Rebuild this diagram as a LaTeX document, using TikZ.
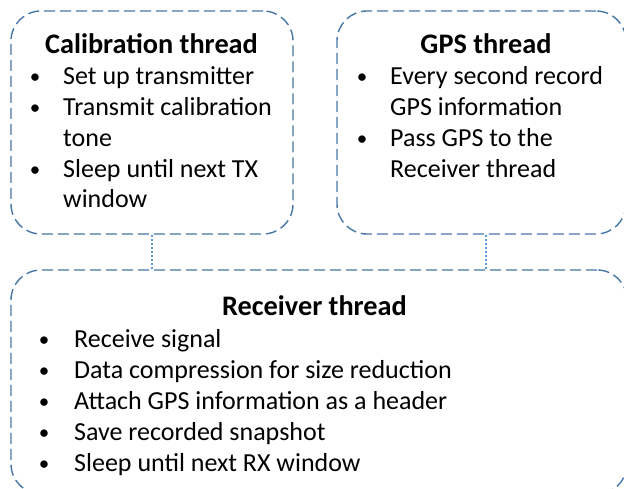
\documentclass[tikz,border=0pt]{standalone}
\usepackage{fontspec}
\setmainfont{Carlito}
\definecolor{boxblue}{RGB}{70,118,168}
\definecolor{connblue}{RGB}{91,155,213}
\tikzset{
  threadbox/.style={draw=boxblue, line width=1.4pt, dash pattern=on 11pt off 5pt, rounded corners=30pt, rectangle, inner sep=0pt},
  conn/.style={draw=connblue, line width=2pt, dash pattern=on 2pt off 2pt},
  ttl/.style={anchor=base, font=\fontsize{28.3}{32}\selectfont\bfseries, inner sep=0pt},
  itm/.style={anchor=base west, font=\fontsize{26}{31}\selectfont, inner sep=0pt},
  bul/.style={anchor=base, font=\fontsize{21}{30}\selectfont, inner sep=0pt, yshift=1pt}
}
\begin{document}
\begin{tikzpicture}[x=1pt,y=-1pt]
\useasboundingbox (0,0) rectangle (624,489);
\clip (0,0) rectangle (624,489);
% boxes
\node[threadbox, minimum width=282pt, minimum height=223pt] (cal) at (152,122.5) {};
\node[threadbox, minimum width=289pt, minimum height=223pt] (gps) at (481.5,122.5) {};
\node[threadbox, minimum width=616pt, minimum height=224pt] (rec) at (319,382) {};
% connectors
\draw[conn] (cal.south) -- (cal.south |- rec.north);
\draw[conn] ([xshift=4.5pt]gps.south) -- ([xshift=4.5pt]gps.south |- rec.north);
% calibration text
\node[ttl] (calt) at (151.5,54) {Calibration thread};
\node[bul] (cb1) at (35,85) {•};
\node[itm] (c1) at (63,85) {Set up transmitter};
\node[bul] (cb2) at (35,116) {•};
\node[itm] (c2) at (63,116) {Transmit calibration};
\node[itm] (c2b) at (63,147) {tone};
\node[bul] (cb3) at (35,178) {•};
\node[itm] (c3) at (63,178) {Sleep until next TX};
\node[itm] (c3b) at (63,208) {window};
% gps text
\node[ttl] (gpst) at (486,54) {GPS thread};
\node[bul] (gb1) at (362,85) {•};
\node[itm] (g1) at (390,85) {Every second record};
\node[itm] (g1b) at (390,116) {GPS information};
\node[bul] (gb2) at (362,147) {•};
\node[itm] (g2) at (390,147) {Pass GPS to the};
\node[itm] (g2b) at (390,178) {Receiver thread};
% receiver text
\node[ttl] (rect) at (314.5,316) {Receiver thread};
\node[bul] (rb1) at (44,347) {•};
\node[itm] (r1) at (74,347) {Receive signal};
\node[bul] (rb2) at (44,378) {•};
\node[itm] (r2) at (74,378) {Data compression for size reduction};
\node[bul] (rb3) at (44,409) {•};
\node[itm] (r3) at (74,409) {Attach GPS information as a header};
\node[bul] (rb4) at (44,440) {•};
\node[itm] (r4) at (74,440) {Save recorded snapshot};
\node[bul] (rb5) at (44,471) {•};
\node[itm] (r5) at (74,471) {Sleep until next RX window};
\end{tikzpicture}
\end{document}
